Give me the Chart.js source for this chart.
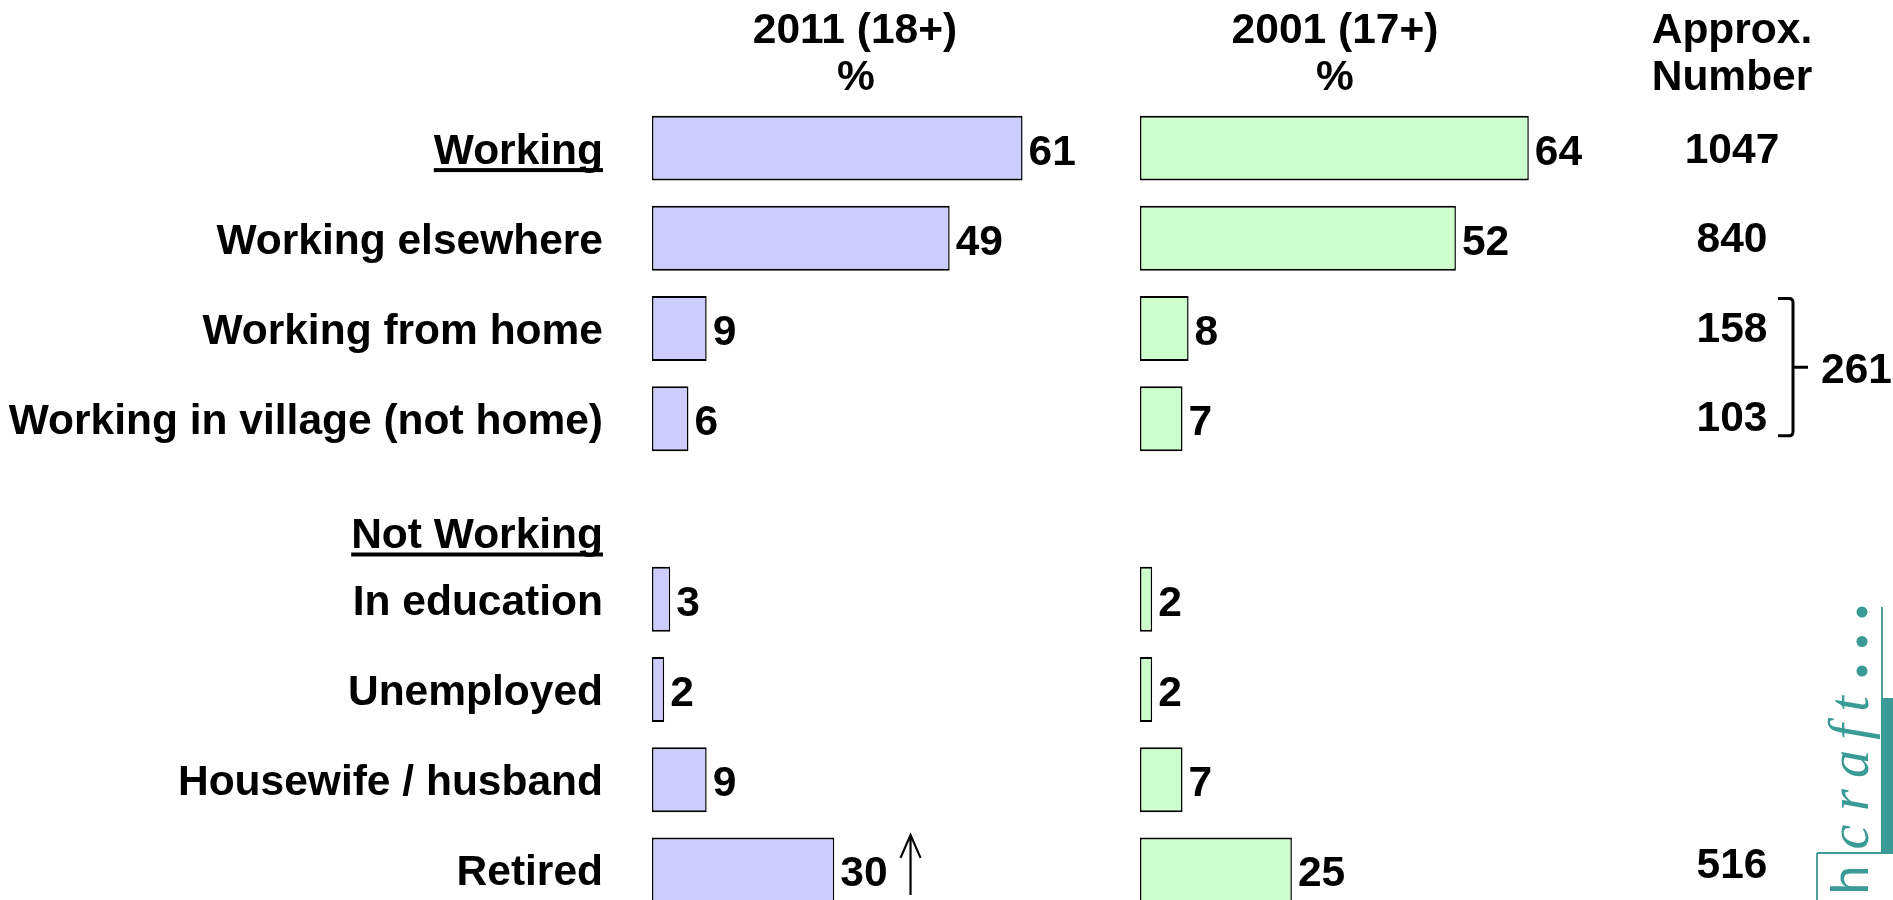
<!DOCTYPE html>
<html><head><meta charset="utf-8">
<script src="https://cdn.jsdelivr.net/npm/chart.js@4/dist/chart.umd.min.js"></script>
<style>
html,body{margin:0;padding:0;background:#fff;width:1893px;height:900px;overflow:hidden;}
canvas{position:absolute;left:0;top:0;}
</style></head><body>
<canvas id="c1" width="1893" height="915"></canvas>
<canvas id="c2" width="1893" height="915"></canvas>
<script>
// ---- data ----
const categories = ['Working','Working elsewhere','Working from home','Working in village (not home)','Not Working','In education','Unemployed','Housewife / husband','Retired'];
const headerRows = [0, 4];
const values2011 = [61, 49, 9, 6, null, 3, 2, 9, 30];
const values2001 = [64, 52, 8, 7, null, 2, 2, 7, 25];
const approxNumbers = ['1047', '840', '158', '103', '', '', '', '', '516'];
const bracketRows = [2, 3];
const bracketTotal = '261';
const increaseRows = [8];
const header2011 = ['2011 (18+)', '%'];
const header2001 = ['2001 (17+)', '%'];
const headerApprox = ['Approx.', 'Number'];

const FONT = 'bold 42.5px "Liberation Sans", Arial, sans-serif';
const BASE = 15.5; // baseline offset from row centre
const TEAL = '#3a9a96';

function baseOptions(padLeft, padRight){
  return {
    indexAxis: 'y',
    responsive: false,
    animation: false,
    devicePixelRatio: 1,
    layout: { padding: { left: padLeft, right: padRight, top: 103, bottom: 0 } },
    plugins: { legend: { display: false }, tooltip: { enabled: false } },
    scales: {
      x: { display: false, min: 0, max: 80 },
      y: { display: false, type: 'category', offset: true }
    }
  };
}

const valuePlugin = {
  id: 'vals',
  afterDatasetsDraw(chart){
    const ctx = chart.ctx, meta = chart.getDatasetMeta(0), data = chart.data.datasets[0].data;
    ctx.save();
    ctx.font = FONT; ctx.fillStyle = '#000'; ctx.textAlign = 'left'; ctx.textBaseline = 'alphabetic';
    meta.data.forEach((bar, i) => {
      const v = data[i];
      if (v == null) return;
      const tx = bar.x + 6;
      ctx.fillText(String(v), tx, bar.y + BASE + 1);
      if (chart.options.plugins.vals && chart.options.plugins.vals.arrows && increaseRows.includes(i)) {
        const ax = tx + ctx.measureText(String(v)).width + 23;
        ctx.strokeStyle = '#000'; ctx.lineWidth = 2.2;
        ctx.beginPath();
        ctx.moveTo(ax, bar.y + 25); ctx.lineTo(ax, bar.y - 34);
        ctx.moveTo(ax - 10, bar.y - 12); ctx.lineTo(ax, bar.y - 35); ctx.lineTo(ax + 10, bar.y - 12);
        ctx.stroke();
      }
    });
    ctx.restore();
  }
};

const leftPlugin = {
  id: 'leftText',
  afterDraw(chart){
    const ctx = chart.ctx, ys = chart.scales.y;
    ctx.save();
    ctx.font = FONT; ctx.fillStyle = '#000';
    ctx.textAlign = 'right'; ctx.textBaseline = 'alphabetic';
    categories.forEach((c, i) => {
      let py = ys.getPixelForValue(i);
      if (i === 4) py += 23.5;
      const base = py + BASE;
      ctx.fillText(c, 603, base);
      if (headerRows.includes(i)) {
        const w = ctx.measureText(c).width;
        ctx.fillRect(603 - w, base + 4.5, w, 4);
      }
    });
    ctx.textAlign = 'center';
    ctx.fillText(header2011[0], 855, 43);
    ctx.fillText(header2011[1], 856, 90);
    ctx.restore();
  }
};

const rightPlugin = {
  id: 'rightText',
  afterDraw(chart){
    const ctx = chart.ctx, ys = chart.scales.y;
    ctx.save();
    ctx.font = FONT; ctx.fillStyle = '#000';
    ctx.textAlign = 'center'; ctx.textBaseline = 'alphabetic';
    ctx.fillText(header2001[0], 1335, 43);
    ctx.fillText(header2001[1], 1335, 90);
    ctx.fillText(headerApprox[0], 1732, 43);
    ctx.fillText(headerApprox[1], 1732, 90);
    approxNumbers.forEach((n, i) => {
      if (!n) return;
      ctx.fillText(n, 1732, ys.getPixelForValue(i) + 15 - 0.85 * i);
    });
    // bracket
    const top = ys.getPixelForValue(bracketRows[0]) - 30;
    const bot = ys.getPixelForValue(bracketRows[1]) + 17;
    const mid = (top + bot) / 2;
    ctx.strokeStyle = '#000'; ctx.lineWidth = 3; ctx.lineJoin = 'round'; ctx.lineCap = 'butt';
    ctx.beginPath();
    ctx.moveTo(1778, top); ctx.lineTo(1789, top); ctx.quadraticCurveTo(1793, top, 1793, top + 4);
    ctx.lineTo(1793, bot - 4); ctx.quadraticCurveTo(1793, bot, 1789, bot); ctx.lineTo(1778, bot);
    ctx.moveTo(1793, mid); ctx.lineTo(1808, mid);
    ctx.stroke();
    ctx.textAlign = 'left';
    ctx.fillText(bracketTotal, 1821, mid + BASE);
    // logo
    ctx.strokeStyle = TEAL; ctx.fillStyle = TEAL; ctx.lineWidth = 1.8;
    ctx.beginPath();
    ctx.moveTo(1882, 607); ctx.lineTo(1882, 853);
    ctx.moveTo(1817, 853); ctx.lineTo(1893, 853);
    ctx.moveTo(1817, 853); ctx.lineTo(1817, 905);
    ctx.stroke();
    ctx.fillRect(1881, 698, 12, 155);
    [612, 641.5, 671].forEach(yy => { ctx.beginPath(); ctx.arc(1862, yy, 5.5, 0, Math.PI * 2); ctx.fill(); });
    ctx.font = 'italic 56px "Liberation Serif", serif';
    ctx.textAlign = 'center'; ctx.textBaseline = 'alphabetic';
    [['t', 704], ['f', 732], ['a', 764], ['r', 800], ['c', 837]].forEach(([ch, yy]) => {
      ctx.save(); ctx.translate(1868, yy); ctx.rotate(-Math.PI / 2); ctx.fillText(ch, 0, 0); ctx.restore();
    });
    ctx.font = '52px "Liberation Sans", sans-serif';
    ctx.save(); ctx.translate(1868, 880); ctx.rotate(-Math.PI / 2); ctx.fillText('h', 0, 0); ctx.restore();
    ctx.restore();
  }
};

const borderW = { top: 2, bottom: 2, left: 1.5, right: 1.5 };

const o1 = baseOptions(652, 1893 - 652 - 486);
o1.plugins.vals = { arrows: true };
new Chart(document.getElementById('c1'), {
  type: 'bar',
  data: { labels: categories, datasets: [{ data: values2011, backgroundColor: '#CCCCFF', borderColor: '#000', borderWidth: borderW, borderSkipped: false, barPercentage: 0.72, categoryPercentage: 1 }] },
  options: o1,
  plugins: [valuePlugin, leftPlugin]
});

const o2 = baseOptions(1140, 1893 - 1140 - 486);
o2.plugins.vals = { arrows: false };
new Chart(document.getElementById('c2'), {
  type: 'bar',
  data: { labels: categories, datasets: [{ data: values2001, backgroundColor: '#CCFFCC', borderColor: '#000', borderWidth: borderW, borderSkipped: false, barPercentage: 0.72, categoryPercentage: 1 }] },
  options: o2,
  plugins: [valuePlugin, rightPlugin]
});
</script>
</body></html>
